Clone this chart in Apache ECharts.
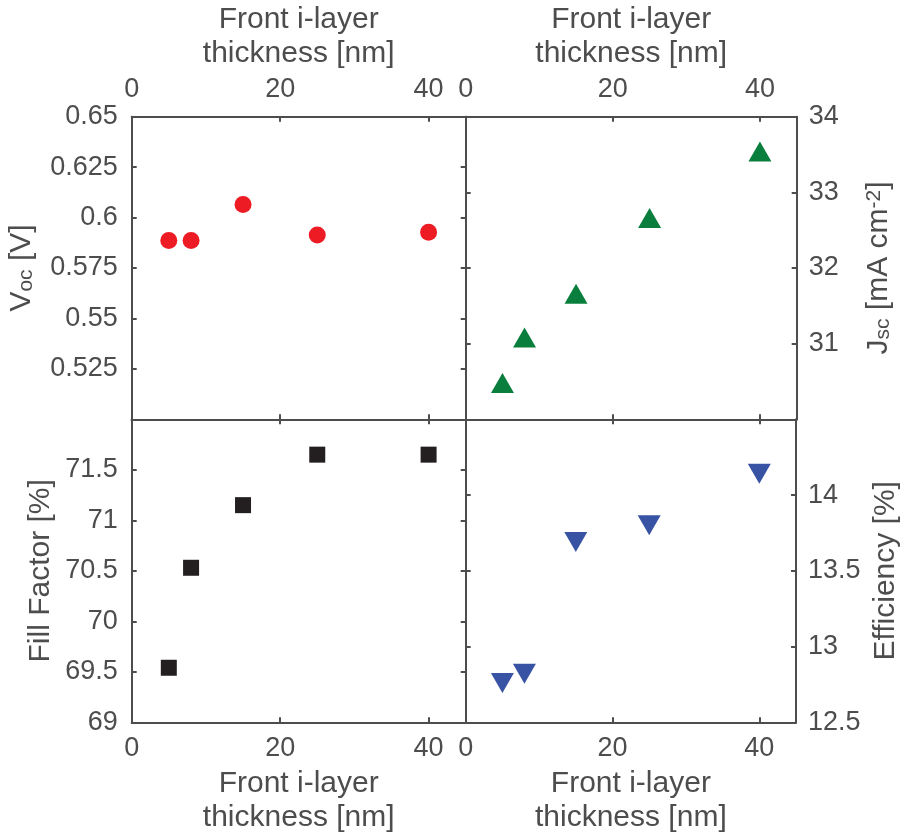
<!DOCTYPE html>
<html>
<head>
<meta charset="utf-8">
<script src="https://cdn.jsdelivr.net/npm/echarts@6/dist/echarts.min.js"></script>
<style>
html,body{margin:0;padding:0;background:#fff;}
#c{width:904px;height:836px;}
</style>
</head>
<body>
<div id="c"></div>
<script>
// ---- data ----
var thickness = [5, 8, 15, 25, 40];
var voc = [0.5886, 0.5886, 0.6065, 0.5914, 0.5927];
var jsc = [30.48, 31.08, 31.66, 32.66, 33.54];
var ff = [69.54, 70.53, 71.15, 71.65, 71.65];
var eff = [12.76, 12.82, 13.69, 13.80, 14.14];

var xRange = [0, 45, 20];
var vocRange = [0.5, 0.65, 0.025];
var jscRange = [30, 34, 1];
var ffRange = [69, 72, 0.5];
var effRange = [12.5, 14.5, 0.5];

var xName = 'Front i-layer\nthickness [nm]';

var AX = '#4d4d4d';
var TXT = '#4d4d4d';
var FONT = '"Liberation Sans", Arial, Helvetica, sans-serif';
var TICKFS = 27;
var NAMEFS = 30;

function pairs(xs, ys) { return xs.map(function (x, i) { return [x, ys[i]]; }); }
function fmt(v) { return String(+(+v).toFixed(4)); }

function axisBase(range, opts) {
  var a = {
    type: 'value',
    min: range[0], max: range[1], interval: range[2],
    splitLine: { show: false },
    axisLine: { show: true, onZero: false, lineStyle: { color: AX, width: 2 } },
    axisTick: { show: true, inside: true, length: 5, lineStyle: { color: AX, width: 2 } },
    axisLabel: { show: false, color: TXT, fontSize: TICKFS, fontFamily: FONT, formatter: fmt },
    nameTextStyle: { color: TXT, fontSize: NAMEFS, fontFamily: FONT, lineHeight: 34 }
  };
  for (var k in opts) {
    if (typeof opts[k] === 'object' && !Array.isArray(opts[k]) && a[k]) {
      for (var j in opts[k]) a[k][j] = opts[k][j];
    } else a[k] = opts[k];
  }
  return a;
}

var grids = [
  { left: 131.7, top: 116.7, width: 334, height: 302.6 },
  { left: 465.7, top: 116.7, width: 331, height: 302.6 },
  { left: 131.7, top: 419.3, width: 334, height: 303 },
  { left: 465.7, top: 419.3, width: 331, height: 303 }
];

var xAxes = [
  // grid 0
  axisBase(xRange, { gridIndex: 0, position: 'bottom' }),
  axisBase(xRange, { gridIndex: 0, position: 'top', name: xName, nameLocation: 'middle', nameGap: 46,
    axisLabel: { show: true, margin: 14, showMaxLabel: false } }),
  // grid 1
  axisBase(xRange, { gridIndex: 1, position: 'bottom' }),
  axisBase(xRange, { gridIndex: 1, position: 'top', name: xName, nameLocation: 'middle', nameGap: 46,
    axisLabel: { show: true, margin: 14, showMaxLabel: false } }),
  // grid 2
  axisBase(xRange, { gridIndex: 2, position: 'bottom', name: xName, nameLocation: 'middle', nameGap: 44,
    axisLabel: { show: true, margin: 13, showMaxLabel: false } }),
  axisBase(xRange, { gridIndex: 2, position: 'top' }),
  // grid 3
  axisBase(xRange, { gridIndex: 3, position: 'bottom', name: xName, nameLocation: 'middle', nameGap: 44,
    axisLabel: { show: true, margin: 13, showMaxLabel: false } }),
  axisBase(xRange, { gridIndex: 3, position: 'top' })
];

var yAxes = [
  // grid 0
  axisBase(vocRange, { gridIndex: 0, position: 'left',
    name: '{a|V}{s|oc}{a| [V]}', nameLocation: 'middle', nameRotate: 90, nameGap: 95,
    nameTextStyle: { rich: {
      a: { fontSize: NAMEFS, fontFamily: FONT, color: TXT, lineHeight: 30 },
      s: { fontSize: 21, fontFamily: FONT, color: TXT, lineHeight: 12, verticalAlign: 'bottom' } } },
    axisLabel: { show: true, margin: 14, showMinLabel: false } }),
  axisBase(vocRange, { gridIndex: 0, position: 'right' }),
  // grid 1
  axisBase(jscRange, { gridIndex: 1, position: 'left' }),
  axisBase(jscRange, { gridIndex: 1, position: 'right',
    name: '{a|J}{s|sc}{a| [mA cm}{p|-2}{a|]}', nameLocation: 'middle', nameRotate: 90, nameGap: 67,
    nameTextStyle: { rich: {
      a: { fontSize: NAMEFS, fontFamily: FONT, color: TXT, lineHeight: 30 },
      s: { fontSize: 21, fontFamily: FONT, color: TXT, lineHeight: 12, verticalAlign: 'bottom' },
      p: { fontSize: 21, fontFamily: FONT, color: TXT, lineHeight: 12, verticalAlign: 'top' } } },
    axisLabel: { show: true, margin: 12, showMinLabel: false } }),
  // grid 2
  axisBase(ffRange, { gridIndex: 2, position: 'left',
    name: 'Fill Factor [%]', nameLocation: 'middle', nameRotate: 90, nameGap: 74,
    axisLabel: { show: true, margin: 14, showMaxLabel: false } }),
  axisBase(ffRange, { gridIndex: 2, position: 'right' }),
  // grid 3
  axisBase(effRange, { gridIndex: 3, position: 'left' }),
  axisBase(effRange, { gridIndex: 3, position: 'right',
    name: 'Efficiency [%]', nameLocation: 'middle', nameRotate: 90, nameGap: 73,
    axisLabel: { show: true, margin: 12, showMaxLabel: false } })
];

var option = {
  animation: false,
  backgroundColor: '#ffffff',
  grid: grids,
  xAxis: xAxes,
  yAxis: yAxes,
  series: [
    { type: 'scatter', xAxisIndex: 0, yAxisIndex: 0, data: pairs(thickness, voc),
      symbol: 'circle', symbolSize: 17, itemStyle: { color: '#ED1C24', opacity: 1 } },
    { type: 'scatter', xAxisIndex: 2, yAxisIndex: 3, data: pairs(thickness, jsc),
      symbol: 'triangle', symbolSize: [23, 20], itemStyle: { color: '#0A7F3D', opacity: 1 } },
    { type: 'scatter', xAxisIndex: 4, yAxisIndex: 4, data: pairs(thickness, ff),
      symbol: 'rect', symbolSize: 16, itemStyle: { color: '#231F20', opacity: 1 } },
    { type: 'scatter', xAxisIndex: 6, yAxisIndex: 7, data: pairs(thickness, eff),
      symbol: 'triangle', symbolRotate: 180, symbolSize: [23, 20], itemStyle: { color: '#3953A4', opacity: 1 } }
  ]
};

var chart = echarts.init(document.getElementById('c'), null, { renderer: 'canvas' });
chart.setOption(option);
</script>
</body>
</html>
